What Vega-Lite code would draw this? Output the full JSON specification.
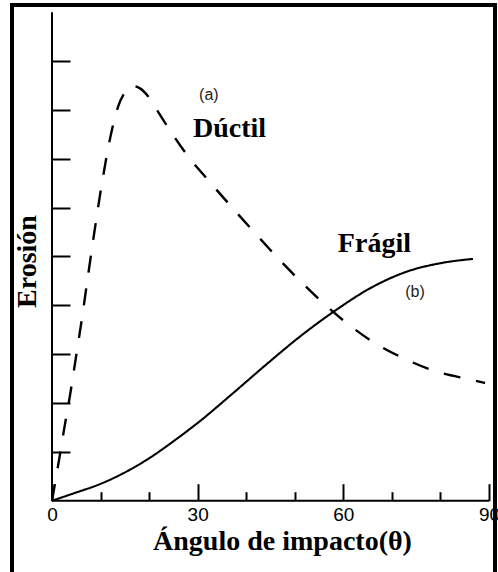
{
  "$schema": "https://vega.github.io/schema/vega-lite/v6.json",
  "width": 483,
  "height": 575,
  "autosize": "none",
  "padding": {"left": 12, "top": 5, "right": 3, "bottom": 0},
  "background": "white",
  "config": {"view": {"stroke": "black", "strokeWidth": 4}},
  "datasets": {
    "curves": [
      {"series": "Dúctil", "angle": 0, "erosion": 0},
      {"series": "Dúctil", "angle": 1.24, "erosion": 0.71},
      {"series": "Dúctil", "angle": 2.47, "erosion": 1.45},
      {"series": "Dúctil", "angle": 3.71, "erosion": 2.16},
      {"series": "Dúctil", "angle": 4.94, "erosion": 2.94},
      {"series": "Dúctil", "angle": 6.18, "erosion": 3.74},
      {"series": "Dúctil", "angle": 7.41, "erosion": 4.6},
      {"series": "Dúctil", "angle": 8.65, "erosion": 5.45},
      {"series": "Dúctil", "angle": 9.88, "erosion": 6.25},
      {"series": "Dúctil", "angle": 11.12, "erosion": 6.98},
      {"series": "Dúctil", "angle": 12.36, "erosion": 7.6},
      {"series": "Dúctil", "angle": 13.59, "erosion": 8.06},
      {"series": "Dúctil", "angle": 15.03, "erosion": 8.36},
      {"series": "Dúctil", "angle": 16.47, "erosion": 8.49},
      {"series": "Dúctil", "angle": 18.12, "erosion": 8.44},
      {"series": "Dúctil", "angle": 19.77, "erosion": 8.28},
      {"series": "Dúctil", "angle": 21.21, "erosion": 8.06},
      {"series": "Dúctil", "angle": 24.3, "erosion": 7.58},
      {"series": "Dúctil", "angle": 27.8, "erosion": 7.08},
      {"series": "Dúctil", "angle": 32.1, "erosion": 6.57},
      {"series": "Dúctil", "angle": 37.1, "erosion": 6.0},
      {"series": "Dúctil", "angle": 41.8, "erosion": 5.48},
      {"series": "Dúctil", "angle": 46.3, "erosion": 4.99},
      {"series": "Dúctil", "angle": 50.7, "erosion": 4.54},
      {"series": "Dúctil", "angle": 55.6, "erosion": 4.07},
      {"series": "Dúctil", "angle": 59.9, "erosion": 3.7},
      {"series": "Dúctil", "angle": 66.1, "erosion": 3.25},
      {"series": "Dúctil", "angle": 72.3, "erosion": 2.92},
      {"series": "Dúctil", "angle": 79.3, "erosion": 2.64},
      {"series": "Dúctil", "angle": 86.1, "erosion": 2.48},
      {"series": "Dúctil", "angle": 89.2, "erosion": 2.41},
      {"series": "Frágil", "angle": 0, "erosion": 0},
      {"series": "Frágil", "angle": 4.74, "erosion": 0.16},
      {"series": "Frágil", "angle": 9.88, "erosion": 0.34},
      {"series": "Frágil", "angle": 15.03, "erosion": 0.58},
      {"series": "Frágil", "angle": 20.18, "erosion": 0.88},
      {"series": "Frágil", "angle": 25.33, "erosion": 1.24},
      {"series": "Frágil", "angle": 30.48, "erosion": 1.63},
      {"series": "Frágil", "angle": 37.27, "erosion": 2.2},
      {"series": "Frágil", "angle": 44.27, "erosion": 2.8},
      {"series": "Frágil", "angle": 51.07, "erosion": 3.36},
      {"series": "Frágil", "angle": 57.87, "erosion": 3.86},
      {"series": "Frágil", "angle": 66.1, "erosion": 4.38},
      {"series": "Frágil", "angle": 73.1, "erosion": 4.69},
      {"series": "Frágil", "angle": 79.9, "erosion": 4.86},
      {"series": "Frágil", "angle": 86.7, "erosion": 4.95}
    ],
    "bigLabels": [
      {"angle": 36.55, "erosion": 7.445, "text": "Dúctil"},
      {"angle": 66.4, "erosion": 5.09, "text": "Frágil"}
    ],
    "smallLabels": [
      {"angle": 32.3, "erosion": 8.305, "text": "(a)"},
      {"angle": 74.75, "erosion": 4.27, "text": "(b)"}
    ]
  },
  "resolve": {"axis": {"x": "independent"}},
  "layer": [
    {
      "data": {"name": "curves"},
      "mark": {"type": "line", "interpolate": "monotone", "color": "black"},
      "encoding": {
        "x": {
          "field": "angle",
          "type": "quantitative",
          "scale": {"domain": [-8.24, 91.24], "nice": false, "zero": false},
          "axis": {
            "orient": "bottom",
            "offset": -79.3,
            "values": [0, 30, 60, 90],
            "domain": false,
            "grid": false,
            "ticks": false,
            "labelFont": "Liberation Sans",
            "labelFontSize": 19,
            "labelColor": "black",
            "labelBaseline": "alphabetic",
            "labelPadding": 20,
            "labelOverlap": false,
            "title": "Ángulo de impacto(θ)",
            "titleFont": "Liberation Serif",
            "titleFontWeight": "bold",
            "titleFontSize": 28,
            "titleColor": "black",
            "titleBaseline": "alphabetic",
            "titleX": 270,
            "titleY": 49
          }
        },
        "y": {
          "field": "erosion",
          "type": "quantitative",
          "scale": {"domain": [-1.623, 10.147], "nice": false, "zero": false},
          "axis": {
            "orient": "left",
            "offset": -40,
            "values": [1, 2, 3, 4, 5, 6, 7, 8, 9],
            "domain": false,
            "grid": false,
            "labels": false,
            "tickColor": "black",
            "tickWidth": 2,
            "tickSize": -18,
            "title": "Erosión",
            "titleFont": "Liberation Serif",
            "titleFontWeight": "bold",
            "titleFontSize": 28,
            "titleColor": "black",
            "titleBaseline": "alphabetic",
            "titleAngle": -90,
            "titleX": -16.5,
            "titleY": 256
          }
        },
        "detail": {"field": "series"},
        "strokeDash": {
          "field": "series",
          "type": "nominal",
          "scale": {"domain": ["Dúctil", "Frágil"], "range": [[17, 16], [1, 0]]},
          "legend": null
        },
        "strokeWidth": {
          "field": "series",
          "type": "nominal",
          "scale": {"domain": ["Dúctil", "Frágil"], "range": [2.4, 2.1]},
          "legend": null
        }
      }
    },
    {
      "data": {"values": [{}]},
      "mark": {"type": "rule", "color": "black", "strokeWidth": 2},
      "encoding": {
        "x": {
          "datum": 0,
          "type": "quantitative",
          "axis": {
            "orient": "bottom",
            "offset": -79.3,
            "values": [0, 30, 60, 90],
            "domain": false,
            "grid": false,
            "labels": false,
            "tickColor": "black",
            "tickWidth": 2,
            "tickSize": -17,
            "title": null
          }
        },
        "y": {"datum": 0, "type": "quantitative"},
        "y2": {"datum": 10}
      }
    },
    {
      "data": {"values": [{}]},
      "mark": {"type": "rule", "color": "black", "strokeWidth": 2},
      "encoding": {
        "x": {
          "datum": 0,
          "type": "quantitative",
          "axis": {
            "orient": "bottom",
            "offset": -79.3,
            "values": [10, 20, 40, 50, 70, 80],
            "domain": false,
            "grid": false,
            "labels": false,
            "tickColor": "black",
            "tickWidth": 2,
            "tickSize": -9,
            "title": null
          }
        },
        "x2": {"datum": 90},
        "y": {"datum": 0, "type": "quantitative"}
      }
    },
    {
      "data": {"name": "bigLabels"},
      "mark": {"type": "text", "font": "Liberation Serif", "fontWeight": "bold", "fontSize": 28, "color": "black", "align": "center", "baseline": "alphabetic"},
      "encoding": {
        "x": {"field": "angle", "type": "quantitative", "axis": null},
        "y": {"field": "erosion", "type": "quantitative"},
        "text": {"field": "text"}
      }
    },
    {
      "data": {"name": "smallLabels"},
      "mark": {"type": "text", "font": "Liberation Sans", "fontSize": 16, "color": "#222", "align": "center", "baseline": "middle"},
      "encoding": {
        "x": {"field": "angle", "type": "quantitative", "axis": null},
        "y": {"field": "erosion", "type": "quantitative"},
        "text": {"field": "text"}
      }
    }
  ]
}
